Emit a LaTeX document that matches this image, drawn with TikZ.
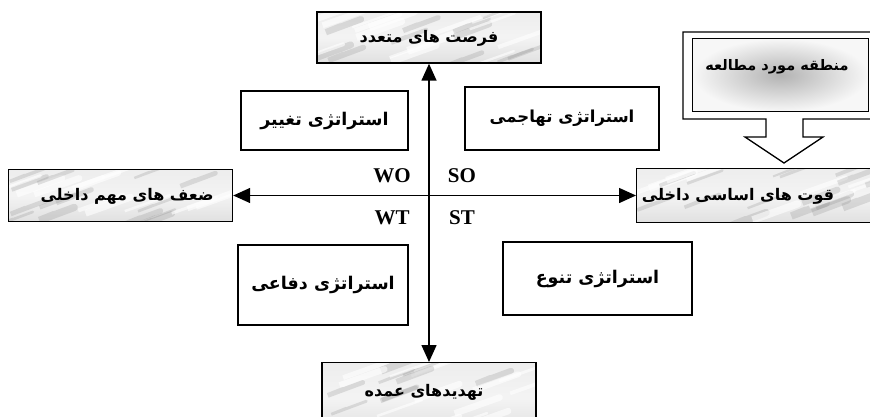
\documentclass[tikz,border=0pt]{standalone}
\usepackage{fontspec}
\setmainfont{Liberation Serif}
\newfontfamily\arabicfont[Script=Arabic]{DejaVu Sans}
\TeXXeTstate=1
\usetikzlibrary{arrows.meta,calc}
\tikzset{
  marble/.style={draw=black, line width=1.4pt, top color=gray!14, bottom color=gray!24, middle color=gray!9, inner sep=0pt,
    path picture={
      \foreach \k in {1,...,26}{
        \pgfmathsetmacro\ax{rnd}\pgfmathsetmacro\ay{rnd}\pgfmathsetmacro\aw{2+6*rnd}
        \pgfmathsetmacro\ac{rnd>0.5 ? 1 : 0}
        \coordinate (pA) at ($(path picture bounding box.south west)!\ax!(path picture bounding box.south east)$);
        \coordinate (pP) at ($(pA)!\ay!(pA |- path picture bounding box.north)$);
        \ifdim\ac pt>0.5pt
          \draw[white, opacity=0.6, line width=\aw pt, line cap=round] (pP) -- ++(-20,7) -- ++(45,-16);
        \else
          \draw[gray, opacity=0.22, line width=\aw pt, line cap=round] (pP) -- ++(-15,6) -- ++(35,-13);
        \fi
      }
    }},
  stratbox/.style={draw=black, line width=1.3pt, fill=white, inner sep=0pt},
  fa/.style={font=\arabicfont\bfseries\fontsize{16}{19}\selectfont, inner sep=0pt},
  fas/.style={font=\arabicfont\bfseries\fontsize{17.5}{20}\selectfont, inner sep=0pt},
  en/.style={font=\bfseries\fontsize{21}{24}\selectfont, inner sep=0pt},
  tip/.tip={Triangle[length=17pt,width=15pt]},
  axis/.style={line width=1.5pt}
}
\begin{document}
\begin{tikzpicture}[x=1pt,y=-1pt]
\pgfmathsetseed{7}
\useasboundingbox (0,0) rectangle (870,417);
\clip (0,0) rectangle (870,417);
% marble boxes
\node[marble, minimum width=224pt, minimum height=51pt] (opp) at (429,37.5) {};
\node[fa] (opptxt) at (429,38) {\beginR فرصت های متعدد\endR};
\node[marble, minimum width=224pt, minimum height=52pt] (weak) at (120.5,195.5) {};
\node[fa] (weaktxt) at (127,196) {\beginR ضعف های مهم داخلی\endR};
\node[marble, minimum width=260pt, minimum height=54pt, anchor=west] (str) at (636,195.5) {};
\node[fa] (strtxt) at (738,196) {\beginR قوت های اساسی داخلی\endR};
\node[marble, minimum width=214pt, minimum height=70pt, anchor=north] (threat) at (429,362) {};
\node[fa] (threattxt) at (424,392) {\beginR تهدیدهای عمده\endR};
% axes
\draw[axis, tip-tip] (opp.south) -- (threat.north);
\draw[axis, tip-tip] (weak.east) -- (str.west);
% quadrant labels
\node[en] (wo) at (392,176) {WO};
\node[en] (so) at (462,176) {SO};
\node[en] (wt) at (392,218) {WT};
\node[en] (st) at (462,218) {ST};
% strategy boxes
\node[stratbox, minimum width=167pt, minimum height=59pt, fas] (change) at (324.5,120.5) {\beginR استراتژی تغییر\endR};
\node[stratbox, minimum width=194pt, minimum height=63pt, fa, font=\arabicfont\bfseries\fontsize{16.5}{19}\selectfont] (attack) at (562,118.5) {\beginR استراتژی تهاجمی\endR};
\node[stratbox, minimum width=170pt, minimum height=80pt, fas] (defend) at (323,285) {\beginR استراتژی دفاعی\endR};
\node[stratbox, minimum width=189pt, minimum height=73pt, fas] (divers) at (597.5,278.5) {\beginR استراتژی تنوع\endR};
% block arrow
\draw[line width=1.3pt, fill=white] (683,32) -- (880,32) -- (880,119) -- (803,119) -- (803,137) -- (823,137) -- (784,163) -- (745,137) -- (766,137) -- (766,119) -- (683,119) -- cycle;
\node[draw=black, line width=1.3pt, inner sep=0pt, minimum width=176pt, minimum height=73pt, anchor=north west, shading=radial, inner color=gray!60, outer color=gray!6] (study) at (692,38) {};
\node[fa, font=\arabicfont\bfseries\fontsize{14.5}{17}\selectfont] (studytxt) at (777,67) {\beginR منطقه مورد مطالعه\endR};
\end{tikzpicture}
\end{document}
